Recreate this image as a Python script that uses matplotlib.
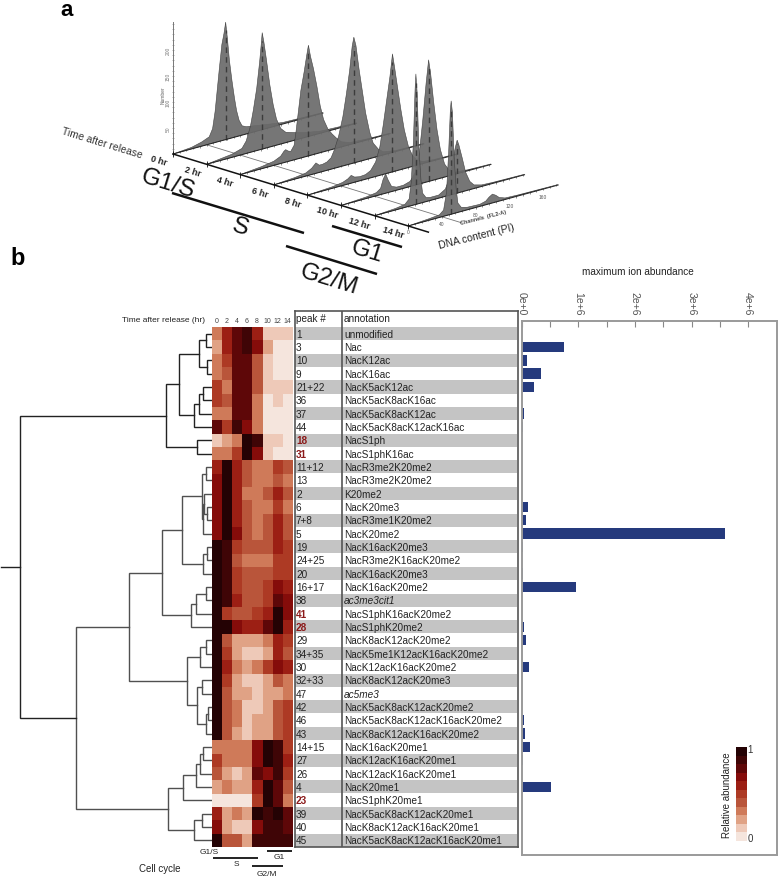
import matplotlib
matplotlib.use("Agg")
import matplotlib.pyplot as plt
from matplotlib.colors import ListedColormap
from matplotlib.transforms import Affine2D
import numpy as np

plt.rcParams['font.family'] = ['Liberation Sans', 'DejaVu Sans']

# ---- panel a: DNA content histograms, one per time point ----
hours = [0, 2, 4, 6, 8, 10, 12, 14]
hist_channels = [
    [0,22,34,43,47,50,52.5,55,58,60.5,62.5,64.5,67,70,73,75.5,78.5,82,87,95,110,130,178],
    [0,15,30,42,47,52,55.5,59.5,63,65,66,68,71,75,79,83,88,94,102,115,135,178],
    [0,25,40,48,52,54,57,60,64,66,69,72,76,79,81,83.5,87,91,95,99,104,109,114,120,130,150,178],
    [0,25,38,45,50,54,58,63,68,72,77,82,86,90,93,95,97.5,101,105,109,114,118,124,130,145,178],
    [0,30,42,48,52,56,62,69,75,81,86,90,94,98,101,103.5,107,111,115,120,125,130,137,150,178],
    [0,30,42,47,50,53,56,60,66,74,82,88,93,97,101,104,106.5,110,114,118,123,128,135,150,178],
    [0,25,36,41,43.5,46,48,49,50.5,52.5,55,57,61,66,76,84,88,92,96,98,100,104,108,113,118,127,140,178],
    [0,25,37,42,45.5,48,50,51,52.5,54.5,57,59,63,70,85,92,96,100,104,108,115,130,178],
]
hist_counts = [
    [0,3,8,14,28,60,100,140,185,205,226,195,150,110,75,50,30,18,14,12,8,3,1],
    [0,3,6,12,24,50,80,120,170,205,224,205,170,120,80,50,30,20,16,10,4,1],
    [0,4,8,14,22,24,20,18,28,50,90,130,165,195,213,190,165,130,90,62,42,30,20,10,4,2,1],
    [0,3,6,12,20,14,14,16,22,36,60,95,135,180,225,242,225,180,135,90,50,28,14,6,2,1],
    [0,3,6,10,15,10,8,9,14,28,55,95,140,185,227,200,160,115,75,40,20,10,4,2,1],
    [0,3,6,12,28,37,24,10,6,6,10,24,60,120,190,234,205,150,95,55,25,12,4,2,1],
    [0,3,6,14,45,120,220,251,215,110,45,18,8,6,6,14,30,60,90,102,92,65,36,16,7,3,2,1],
    [0,3,5,12,45,120,200,218,195,110,45,18,8,5,4,7,13,17,13,7,3,2,1],
]
dash_peaks = [[(62.5,226)], [(66,224)], [(81,213)], [(95,242)], [(101,227)],
              [(104,234)], [(49,251),(98,102)], [(51,218)]]
channel_ticks = [40, 80, 120, 160]
number_ticks = [50, 100, 150, 200]

# ---- panel b ----
peak_ids = ["1","3","10","9","21+22","36","37","44","18","31","11+12","13","2","6","7+8","5",
            "19","24+25","20","16+17","38","41","28","29","34+35","30","32+33","47","42","46",
            "43","14+15","27","26","4","23","39","40","45"]
annotations = ["unmodified","Nac","NacK12ac","NacK16ac","NacK5acK12ac","NacK5acK8acK16ac",
               "NacK5acK8acK12ac","NacK5acK8acK12acK16ac","NacS1ph","NacS1phK16ac",
               "NacR3me2K20me2","NacR3me2K20me2","K20me2","NacK20me3","NacR3me1K20me2","NacK20me2",
               "NacK16acK20me3","NacR3me2K16acK20me2","NacK16acK20me3","NacK16acK20me2","ac3me3cit1",
               "NacS1phK16acK20me2","NacS1phK20me2","NacK8acK12acK20me2","NacK5me1K12acK16acK20me2",
               "NacK12acK16acK20me2","NacK8acK12acK20me3","ac5me3","NacK5acK8acK12acK20me2",
               "NacK5acK8acK12acK16acK20me2","NacK8acK12acK16acK20me2","NacK16acK20me1",
               "NacK12acK16acK20me1","NacK12acK16acK20me1","NacK20me1","NacS1phK20me1",
               "NacK5acK8acK12acK20me1","NacK8acK12acK16acK20me1","NacK5acK8acK12acK16acK20me1"]
red_peaks = ["18","31","41","28","23"]
italic_annotations = ["ac3me3cit1","ac5me3"]

# relative abundance in 11 colour steps, columns are hours
heat_levels = [
    [3,6,8,9,6,1,1,1],[2,6,8,9,7,2,0,0],[3,5,8,8,4,1,0,0],[3,4,8,8,4,1,0,0],
    [5,3,8,8,4,1,1,1],[5,4,8,8,3,0,1,0],[3,3,8,8,3,0,0,0],[8,5,9,7,3,0,0,0],
    [1,2,3,10,9,1,1,0],[3,3,5,10,7,1,0,0],[6,10,6,4,3,3,5,4],[7,10,6,4,3,3,4,3],
    [7,10,6,3,3,4,6,4],[7,10,6,4,3,3,5,3],[7,10,6,4,3,4,6,4],[7,10,7,4,3,4,6,4],
    [10,9,5,4,4,4,6,5],[10,9,4,3,3,3,5,5],[10,9,5,4,4,4,5,5],[10,9,5,4,4,5,7,6],
    [10,9,6,4,4,5,8,7],[10,5,4,4,5,6,10,7],[10,10,7,6,6,8,10,6],[10,4,2,2,2,3,6,5],
    [10,5,2,1,1,2,6,4],[10,6,3,2,3,5,7,6],[10,5,2,1,1,2,4,3],[10,4,2,2,1,2,2,3],
    [10,4,3,1,1,2,4,5],[10,4,3,1,2,2,4,5],[10,4,2,1,2,2,4,5],[3,3,3,3,7,10,9,5],
    [5,3,3,3,7,10,9,6],[4,2,1,2,8,7,9,5],[2,3,2,2,6,10,8,4],[0,0,0,0,5,10,8,3],
    [6,2,3,2,10,9,10,8],[7,2,1,1,7,9,9,8],[10,4,4,2,9,9,9,9],
]
heat_hours = ["0","2","4","6","8","10","12","14"]
heat_colors = ["#f5e5dd","#eec9b8","#e0a285","#cf7a59","#b9553a","#ad3a24","#9c1f14",
               "#850c0a","#5e0708","#3f0506","#240204"]

max_abundance = [0.002,0.754,0.10,0.34,0.218,0.002,0.035,0.015,0.002,0.001,0.001,0.012,0.01,
                 0.115,0.07,3.6,0.015,0.005,0.02,0.955,0.012,0.008,0.035,0.08,0.003,0.125,
                 0.001,0.001,0.01,0.035,0.05,0.155,0.025,0.008,0.51,0.008,0.001,0.001,0.001]

# dendrogram as (merge position, upper, lower), leaves are row numbers
tree_top = (165.7,
            (179.3,
             (199.0, (206.0, 0, 1), (206.5, 2, 3)),
             (194.0, (199.3, (203.0, 4, 5), 6), 7)),
            (197.3, 8, 9))
tree_mid = (162.3,
            (182.0,
             (202.3, (206.0, 10, 11), (203.3, (204.0, 12, (207.3, 13, 14)), 15)),
             (203.3, (206.5, 16, 17), 18)),
            (191.0, (195.7, (205.7, 19, 20), 21), 22))
tree_low = (187.0,
            (200.3, (206.3, 23, 24), 25),
            (197.3, (202.3, 26, 27), (206.0, (208.0, 28, 29), 30)))
tree_end = (167.7,
            (183.0, (196.3, (200.0, (203.3, 31, 32), 33), 34), 35),
            (194.3, (201.7, 36, 37), 38))
tree_bottom = (76.0, (129.3, tree_mid, tree_low), tree_end)

W, H = 778, 879
fig = plt.figure(figsize=(W/100, H/100), dpi=100)


def px_axes(x0, y0, x1, y1):
    return fig.add_axes([x0/W, 1-y1/H, (x1-x0)/W, (y1-y0)/H])


page = px_axes(0, 0, W, H)
page.set_xlim(0, W)
page.set_ylim(H, 0)
page.axis('off')
page.set_zorder(10)

# ---- panel a ----
chan_dx, chan_dy, count_px = 0.8425, -0.23, 0.52
time_dx, time_dy = 16.8, 5.14
ox, oy = 173, 155


def slice_tr(t):
    m = [[chan_dx, 0, ox+t*time_dx], [chan_dy, -count_px, oy+t*time_dy], [0, 0, 1]]
    return Affine2D(matrix=m) + page.transData


for i, t in enumerate(hours):
    tr = slice_tr(t)
    page.fill(hist_channels[i], hist_counts[i], transform=tr, fc='#6a6a6a', ec='#3a3a3a',
              lw=0.4, alpha=0.92, zorder=3+i)
    for c, n in dash_peaks[i]:
        page.plot([c, c], [0, n*0.93], transform=tr, color='#3c3c3c', lw=1.0,
                  dashes=(4, 3), zorder=3+i)
    page.plot([0, 178], [0, 0], transform=tr, color='#222222', lw=0.7, zorder=3+i)
    page.plot(np.arange(0, 178, 8), np.zeros(23), transform=tr, ls='none', marker='|',
              ms=2, mew=0.4, color='#333333', zorder=3+i)

# axis lines of the 3d box
page.plot([0, 15.2], [0, 0], color='#111111', lw=1.1, zorder=12,
          transform=Affine2D(matrix=[[time_dx, 0, ox], [time_dy, 1, oy], [0, 0, 1]])+page.transData)
page.plot(hours, np.zeros(8), ls='none', marker='|', ms=4, mew=0.6, color='#111111', zorder=12,
          transform=Affine2D(matrix=[[time_dx, 0, ox], [time_dy, 1, oy], [0, 0, 1]])+page.transData)
page.plot([0, 15.2], [0, 0], color='#777777', lw=0.6, zorder=2,
          transform=Affine2D(matrix=[[time_dx, 0, ox+40*chan_dx], [time_dy, 1, oy+40*chan_dy], [0, 0, 1]])+page.transData)
tr0 = slice_tr(0)
page.plot([0, 0], [0, 254], transform=tr0, color='#777777', lw=0.7)
page.plot(np.zeros(26), np.arange(0, 260, 10), transform=tr0, ls='none', marker='_', ms=2,
          mew=0.4, color='#777777')
for n in number_ticks:
    page.text(168, oy-n*count_px, str(n), rotation=90, fontsize=3.5, color='#777777',
              ha='center', va='center')
page.text(163, 95, "Number", rotation=90, fontsize=3.5, color='#666666', ha='center', va='center')
for c in channel_ticks:
    page.text(c*chan_dx+ox+14*time_dx, c*chan_dy+oy+14*time_dy+7, str(c), fontsize=3.5,
              color='#555555', ha='center', va='center', zorder=14)
page.text(ox+14*time_dx, oy+14*time_dy+6, "0", fontsize=3.5, color='#555555', ha='center', va='center')
page.text(483, 218, "Channels  (FL2-A)", rotation=14, fontsize=4, fontweight='bold', color='#444444',
          ha='center', va='center', zorder=14)
page.text(477, 237, "DNA content (PI)", rotation=14, fontsize=7.5, color='#222222', ha='center', va='center')
page.text(102, 143, "Time after release", rotation=-17, fontsize=7.5, color='#333333', ha='center', va='center')

time_label_xy = [(159,161),(193,172),(225,182),(260,193),(293,203),(327,213),(359,224),(393,233)]
for t, (lx, ly) in zip(hours, time_label_xy):
    page.text(lx, ly, f"{t} hr", rotation=-17, fontsize=6.5, fontweight='bold', color='#222222',
              ha='center', va='center')

phase_a = [("G1/S", 168, 184), ("S", 240, 228), ("G1", 367, 252), ("G2/M", 329, 280)]
for name, lx, ly in phase_a:
    page.text(lx, ly, name, rotation=-17, fontsize=17.5, color='#111111', ha='center', va='center')
for (x0, y0, x1, y1) in [(172,194,304,234), (332,227,402,248), (286,247,377,275)]:
    page.plot([x0, x1], [y0, y1], color='#111111', lw=1.8, solid_capstyle='butt')

page.text(67, 16, "a", fontsize=16, fontweight='bold', ha='center', va='baseline')
page.text(18, 265, "b", fontsize=17, fontweight='bold', ha='center', va='baseline')

# ---- panel b: heat map ----
rows = len(peak_ids)
row_top, row_h = 328.0, 13.33
row_bot = row_top+rows*row_h
cmap = ListedColormap(heat_colors)

heat = px_axes(212, row_top, 292, row_bot)
heat.imshow(np.array(heat_levels), cmap=cmap, vmin=-0.5, vmax=10.5, aspect='auto', interpolation='nearest')
heat.set_xticks(range(8))
heat.set_xticklabels(heat_hours, fontsize=5, color='#444444')
heat.xaxis.tick_top()
heat.tick_params(axis='x', length=0, pad=2)
heat.set_yticks([])
for s in heat.spines.values():
    s.set_visible(False)

page.text(164, 321, "Time after release (hr)", fontsize=6, color='#222222', ha='center', va='center')
page.text(160, 869, "Cell cycle", fontsize=7, color='#222222', ha='center', va='center')
for name, lx, ly in [("G1/S", 209, 853), ("S", 236, 865), ("G1", 279, 858), ("G2/M", 267, 875)]:
    page.text(lx, ly, name, fontsize=6, color='#222222', ha='center', va='center')
for x0, x1, yy in [(213, 258, 859), (267, 292, 852), (252, 283, 867)]:
    page.plot([x0, x1], [yy, yy], color='#111111', lw=1.3, solid_capstyle='butt')

# dendrogram
dendro = px_axes(0, row_top, 211.5, row_bot)
dendro.set_xlim(0, 211.5)
dendro.set_ylim(rows-0.5, -0.5)
dendro.axis('off')


def draw_tree(node, color):
    if not isinstance(node, tuple):
        return 211.5, node
    x, a, b = node
    xa, ya = draw_tree(a, color)
    xb, yb = draw_tree(b, color)
    dendro.plot([xa, x, x, xb], [ya, ya, yb, yb], color=color, lw=1.0, solid_joinstyle='miter')
    return x, (ya+yb)/2


top_x, top_y = draw_tree(tree_top, '#222222')
bot_x, bot_y = draw_tree(tree_bottom, '#505050')
root_x = 20.3
dendro.plot([top_x, root_x, root_x, bot_x], [top_y, top_y, bot_y, bot_y], color='#222222', lw=1.0,
            solid_joinstyle='miter')
dendro.plot([1, root_x], [(top_y+bot_y)/2, (top_y+bot_y)/2], color='#222222', lw=1.0)

# table
table = px_axes(294.5, 312, 517.5, 848)
table.set_xlim(294.5, 517.5)
table.set_ylim((848-row_top)/row_h-0.5, (312-row_top)/row_h-0.5)
table.set_xticks([])
table.set_yticks([])
for s in table.spines.values():
    s.set_color('#555555')
    s.set_linewidth(1.2)
for i in range(0, rows, 2):
    table.barh(i, 222, left=295, height=0.98, color='#c4c4c4', lw=0)
table.axvline(342, color='#555555', lw=1.2)
table.text(296, -1.2, "peak #", fontsize=7.2, color='#222222', va='center')
table.text(344, -1.2, "annotation", fontsize=7.2, color='#222222', va='center')
for i, (p, a) in enumerate(zip(peak_ids, annotations)):
    if p in red_peaks:
        table.text(296, i, p, fontsize=7.2, color='#8b1a1a', fontweight='bold', va='center')
    else:
        table.text(296, i, p, fontsize=7.2, color='#222222', va='center')
    table.text(344, i, a, fontsize=7.2, color='#222222', va='center',
               fontstyle='italic' if a in italic_annotations else 'normal')

# bars
bars = px_axes(521.7, 322, 776.5, 855.7)
px_per_million = 56.6
bars.barh(range(rows), max_abundance, height=0.78, color='#253a7d', lw=0)
bars.set_xlim(0, (776.5-521.7)/px_per_million)
bars.set_ylim((855.7-row_top)/row_h-0.5, (322-row_top)/row_h-0.5)
bars.xaxis.tick_top()
bars.set_xticks([0, 1, 2, 3, 4])
bars.set_xticklabels(["0e+0", "1e+6", "2e+6", "3e+6", "4e+6"], rotation=-90, fontsize=7.5, color='#555555')
bars.set_xticks([0.5, 1.5, 2.5, 3.5], minor=True)
bars.tick_params(axis='x', which='both', direction='in', length=4.5, width=0.8, color='#888888', pad=4.5)
bars.set_yticks([])
for s in bars.spines.values():
    s.set_color('#9a9a9a')
    s.set_linewidth(1.4)
page.text(637.7, 272, "maximum ion abundance", fontsize=7.2, color='#222222', ha='center', va='center')

# colour key
key = px_axes(736, 748.3, 746.7, 841.7)
key.imshow(np.arange(11).reshape(-1, 1), cmap=cmap, vmin=-0.5, vmax=10.5, origin='lower', aspect='auto')
key.axis('off')
page.text(727, 795, "Relative abundance", rotation=90, fontsize=7, color='#222222', ha='center', va='center')
page.text(750, 750, "1", fontsize=7, color='#333333', ha='center', va='center')
page.text(750, 839, "0", fontsize=7, color='#333333', ha='center', va='center')

fig.savefig("out.png", dpi=100)
